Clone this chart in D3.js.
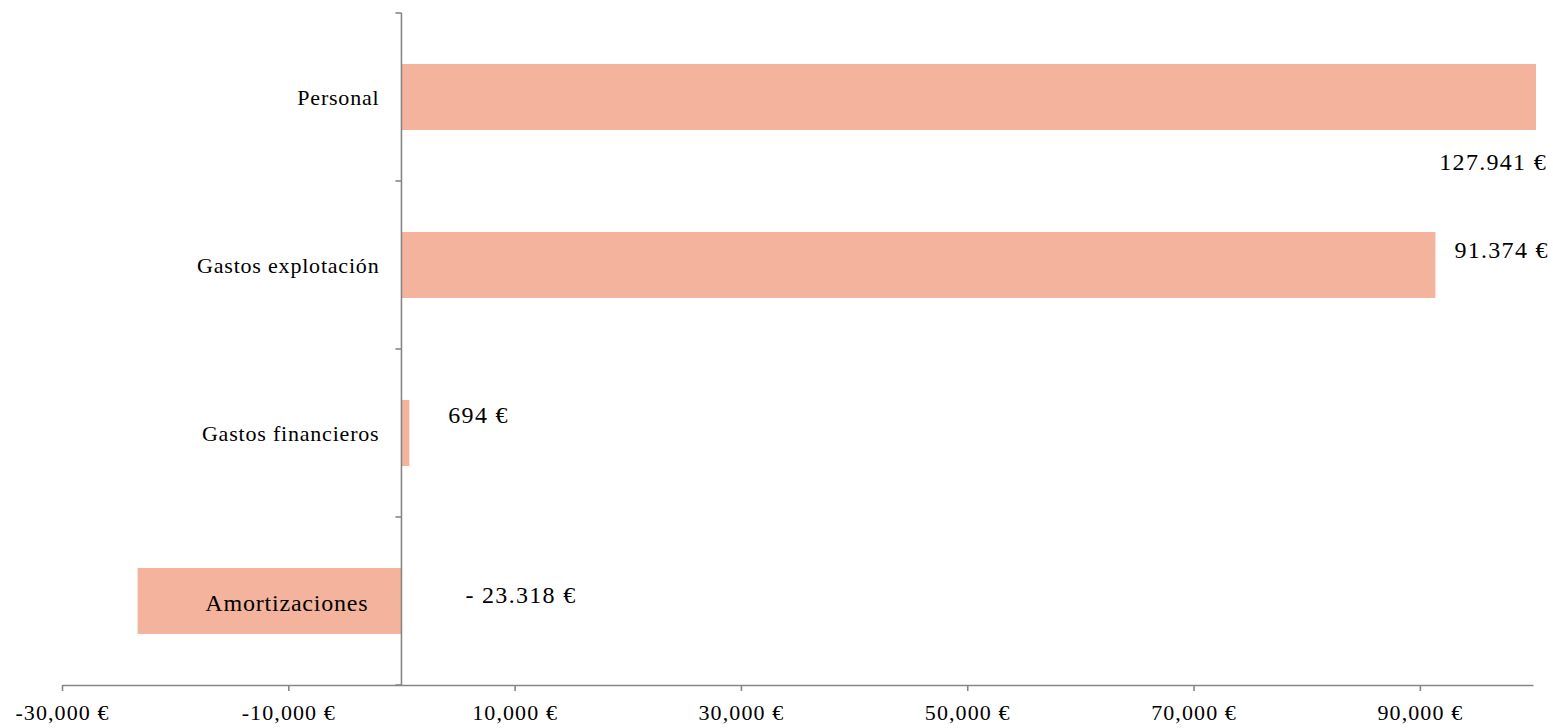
<!DOCTYPE html>
<html>
<head>
<meta charset="utf-8">
<script src="https://cdn.jsdelivr.net/npm/d3@7"></script>
<style>
  html, body { margin: 0; padding: 0; background: #fff; }
  svg { display: block; }
  text { font-family: "Liberation Serif", "DejaVu Serif", serif; fill: #000; }
</style>
</head>
<body>
<svg id="chart" width="1553" height="728"></svg>
<script>
// ---- data ----
const categories = ["Personal", "Gastos explotación", "Gastos financieros", "Amortizaciones"];
const values = [127941, 91374, 694, -23318];
const valueLabels = ["127.941 €", "91.374 €", "694 €", "- 23.318 €"];
const tickValues = [-30000, -10000, 10000, 30000, 50000, 70000, 90000];
const xDomain = [-30000, 100000];

// ---- layout ----
const svg = d3.select("#chart");
const axisColor = "#868686";
const barColor = "#F3B39C";

const x = d3.scaleLinear().domain(xDomain).range([62, 1533]).clamp(true);
const y = d3.scaleBand().domain(categories).range([13, 685])
  .paddingInner(0.607).paddingOuter(0.3035);

// bars
svg.append("g").selectAll("rect")
  .data(categories)
  .join("rect")
  .attr("x", (d, i) => Math.min(x(0), x(values[i])))
  .attr("y", d => y(d))
  .attr("width", (d, i) => Math.abs(x(values[i]) - x(0)) + (values[i] > xDomain[1] ? 3 : 0))
  .attr("height", y.bandwidth())
  .attr("fill", barColor);

// x axis
const fmt = v => (v < 0 ? "-" : "") + d3.format(",")(Math.abs(v)) + " €";
const xAxis = svg.append("g")
  .attr("transform", `translate(0,${y.range()[1]})`)
  .call(d3.axisBottom(x).tickValues(tickValues).tickFormat(fmt).tickSizeInner(6).tickSizeOuter(0).tickPadding(13));
xAxis.select(".domain").attr("stroke", axisColor).attr("stroke-width", 1.6);
xAxis.selectAll(".tick line").attr("stroke", axisColor).attr("stroke-width", 1.6);
xAxis.selectAll(".tick text")
  .style("font-family", '"Liberation Serif", serif')
  .style("font-size", "22px").style("letter-spacing", "1.1px").attr("fill", "#000");

// y axis line with ticks at category boundaries
const step = y.step();
const boundaries = d3.range(categories.length + 1).map(i => y.range()[0] + i * step);
const yAxisG = svg.append("g");
yAxisG.append("line")
  .attr("x1", x(0)).attr("x2", x(0))
  .attr("y1", y.range()[0]).attr("y2", y.range()[1])
  .attr("stroke", axisColor).attr("stroke-width", 1.6);
yAxisG.selectAll("line.tk")
  .data(boundaries)
  .join("line").attr("class", "tk")
  .attr("x1", x(0) - 6).attr("x2", x(0))
  .attr("y1", d => d).attr("y2", d => d)
  .attr("stroke", axisColor).attr("stroke-width", 1.6);

// category labels
const catDx = [-22, -22, -22, -33];
const catSize = [22, 22, 22, 24];
svg.append("g").selectAll("text")
  .data(categories)
  .join("text")
  .attr("x", (d, i) => x(0) + catDx[i])
  .attr("y", (d, i) => y(d) + y.bandwidth() / 2 + (i === 3 ? 2 : 0))
  .attr("dy", "0.35em")
  .attr("text-anchor", "end")
  .style("font-size", (d, i) => catSize[i] + "px")
  .style("letter-spacing", "0.8px")
  .text(d => d);

// value labels (positions as placed in the original)
const lblAnchor = ["end", "start", "start", "start"];
const lblBase = [v => x.range()[1], v => x(v), v => x(v), v => x(0)];
const lblDx = [14, 19, 39, 64];
const lblDy = [65, -15, -18, -6];
svg.append("g").selectAll("text")
  .data(categories)
  .join("text")
  .attr("x", (d, i) => lblBase[i](values[i]) + lblDx[i])
  .attr("y", (d, i) => y(d) + y.bandwidth() / 2 + lblDy[i])
  .attr("dy", "0.35em")
  .attr("text-anchor", (d, i) => lblAnchor[i])
  .style("font-size", "24px")
  .style("letter-spacing", "1.3px")
  .text((d, i) => valueLabels[i]);
</script>
</body>
</html>
